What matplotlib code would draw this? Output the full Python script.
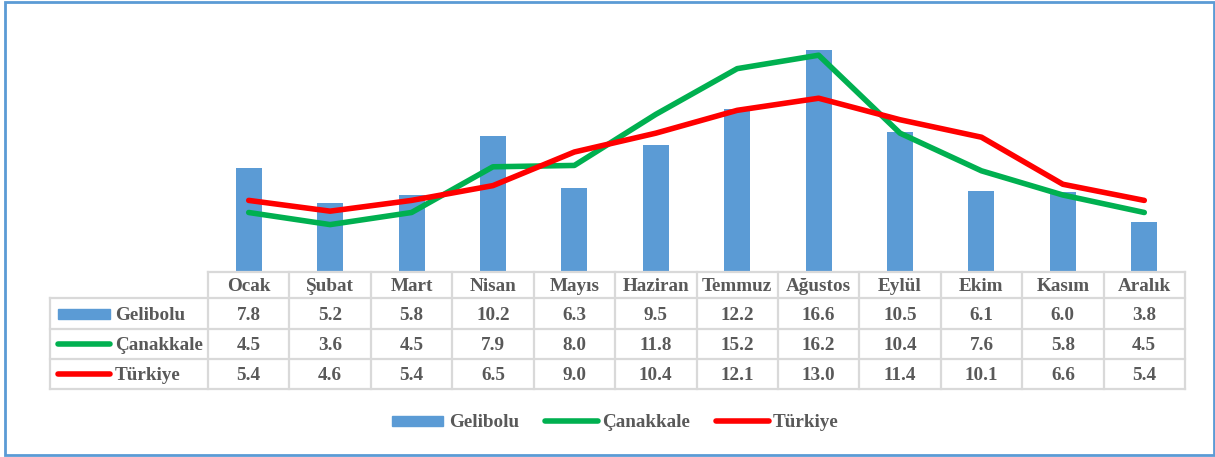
import matplotlib
matplotlib.use("Agg")
import matplotlib.pyplot as plt
import matplotlib.transforms as mtransforms
from matplotlib.patches import Rectangle
from matplotlib.lines import Line2D
import numpy as np

months = ["Ocak", "Şubat", "Mart", "Nisan", "Mayıs", "Haziran", "Temmuz",
          "Ağustos", "Eylül", "Ekim", "Kasım", "Aralık"]
gelibolu = [7.8, 5.2, 5.8, 10.2, 6.3, 9.5, 12.2, 16.6, 10.5, 6.1, 6.0, 3.8]
canakkale = [4.5, 3.6, 4.5, 7.9, 8.0, 11.8, 15.2, 16.2, 10.4, 7.6, 5.8, 4.5]
turkiye = [5.4, 4.6, 5.4, 6.5, 9.0, 10.4, 12.1, 13.0, 11.4, 10.1, 6.6, 5.4]
series_names = ["Gelibolu", "Çanakkale", "Türkiye"]

W, H = 1215, 457
BLUE = "#5B9BD5"
GREEN = "#00B050"
RED = "#FF0000"
TXT = "#595959"
GRID = "#D9D9D9"
FONT = "Liberation Serif"

fig = plt.figure(figsize=(W / 100, H / 100), dpi=100)

def fx(px):
    return px / W

def fy(py):
    return 1 - py / H

# outer border
fig.patches.append(Rectangle((fx(5), fy(455)), fx(1214) - fx(5), fy(2) - fy(455),
                             transform=fig.transFigure, fill=False,
                             edgecolor=BLUE, linewidth=2))

ax_left, ax_right, ax_top, ax_bot = 208, 1185, 31, 273
ax = fig.add_axes([fx(ax_left), fy(ax_bot), fx(ax_right) - fx(ax_left), fy(ax_top) - fy(ax_bot)])
x = np.arange(len(months))
ax.bar(x, gelibolu, width=0.32, color=BLUE, zorder=2)
ax.plot(x, canakkale, color=GREEN, linewidth=4, solid_capstyle="round", zorder=3)
ax.plot(x, turkiye, color=RED, linewidth=4, solid_capstyle="round", zorder=4)
ax.set_xlim(-0.5, len(months) - 0.5)
ax.set_ylim(0, 18)
ax.axis("off")

# table
tr = mtransforms.blended_transform_factory(ax.transData, fig.transFigure)
row_y = [272, 298, 329, 359, 389]
label_left = 50
lw = 1.6
ax.add_line(Line2D([-0.5, len(months) - 0.5], [fy(row_y[0])] * 2, transform=tr,
                   color=GRID, lw=lw, clip_on=False, zorder=5))
for yy in row_y[1:]:
    fig.add_artist(Line2D([fx(label_left), fx(ax_right)], [fy(yy)] * 2,
                          transform=fig.transFigure, color=GRID, lw=lw))
for i in range(len(months) + 1):
    ax.add_line(Line2D([i - 0.5, i - 0.5], [fy(row_y[0]), fy(row_y[-1])], transform=tr,
                       color=GRID, lw=lw, clip_on=False))
fig.add_artist(Line2D([fx(label_left)] * 2, [fy(row_y[1]), fy(row_y[-1])],
                      transform=fig.transFigure, color=GRID, lw=lw))

fs = 13.8
dy = 1.5  # small downward text offset in pixels
for i, m in enumerate(months):
    ax.text(i, fy((row_y[0] + row_y[1]) / 2 + dy), m, transform=tr, ha="center", va="center",
            fontsize=fs, fontweight="bold", color=TXT, family=FONT)
for r, vals in enumerate([gelibolu, canakkale, turkiye]):
    yc = fy((row_y[r + 1] + row_y[r + 2]) / 2 + dy)
    for i, v in enumerate(vals):
        ax.text(i, yc, f"{v:.1f}", transform=tr, ha="center", va="center",
                fontsize=fs, fontweight="bold", color=TXT, family=FONT)

for r, name in enumerate(series_names):
    yk = fy((row_y[r + 1] + row_y[r + 2]) / 2)
    yc = fy((row_y[r + 1] + row_y[r + 2]) / 2 + dy)
    if r == 0:
        fig.patches.append(Rectangle((fx(58), yk - 5 / H), fx(110) - fx(58), 10 / H,
                                     transform=fig.transFigure, color=BLUE))
    else:
        c = GREEN if r == 1 else RED
        fig.add_artist(Line2D([fx(58), fx(110)], [yk, yk], transform=fig.transFigure,
                              color=c, lw=4, solid_capstyle="round"))
    fig.text(fx(115), yc, name, ha="left", va="center", fontsize=fs, fontweight="bold",
             color=TXT, family=FONT)

ly = fy(421)
lyt = fy(421 + dy)
fig.patches.append(Rectangle((fx(392), ly - 5 / H), fx(443) - fx(392), 10 / H,
                             transform=fig.transFigure, color=BLUE))
fig.text(fx(449), lyt, series_names[0], ha="left", va="center", fontsize=fs,
         fontweight="bold", color=TXT, family=FONT)
fig.add_artist(Line2D([fx(545), fx(598)], [ly, ly], transform=fig.transFigure,
                      color=GREEN, lw=4, solid_capstyle="round"))
fig.text(fx(602), lyt, series_names[1], ha="left", va="center", fontsize=fs,
         fontweight="bold", color=TXT, family=FONT)
fig.add_artist(Line2D([fx(716), fx(769)], [ly, ly], transform=fig.transFigure,
                      color=RED, lw=4, solid_capstyle="round"))
fig.text(fx(773), lyt, series_names[2], ha="left", va="center", fontsize=fs,
         fontweight="bold", color=TXT, family=FONT)

fig.savefig("out.png", dpi=100)
